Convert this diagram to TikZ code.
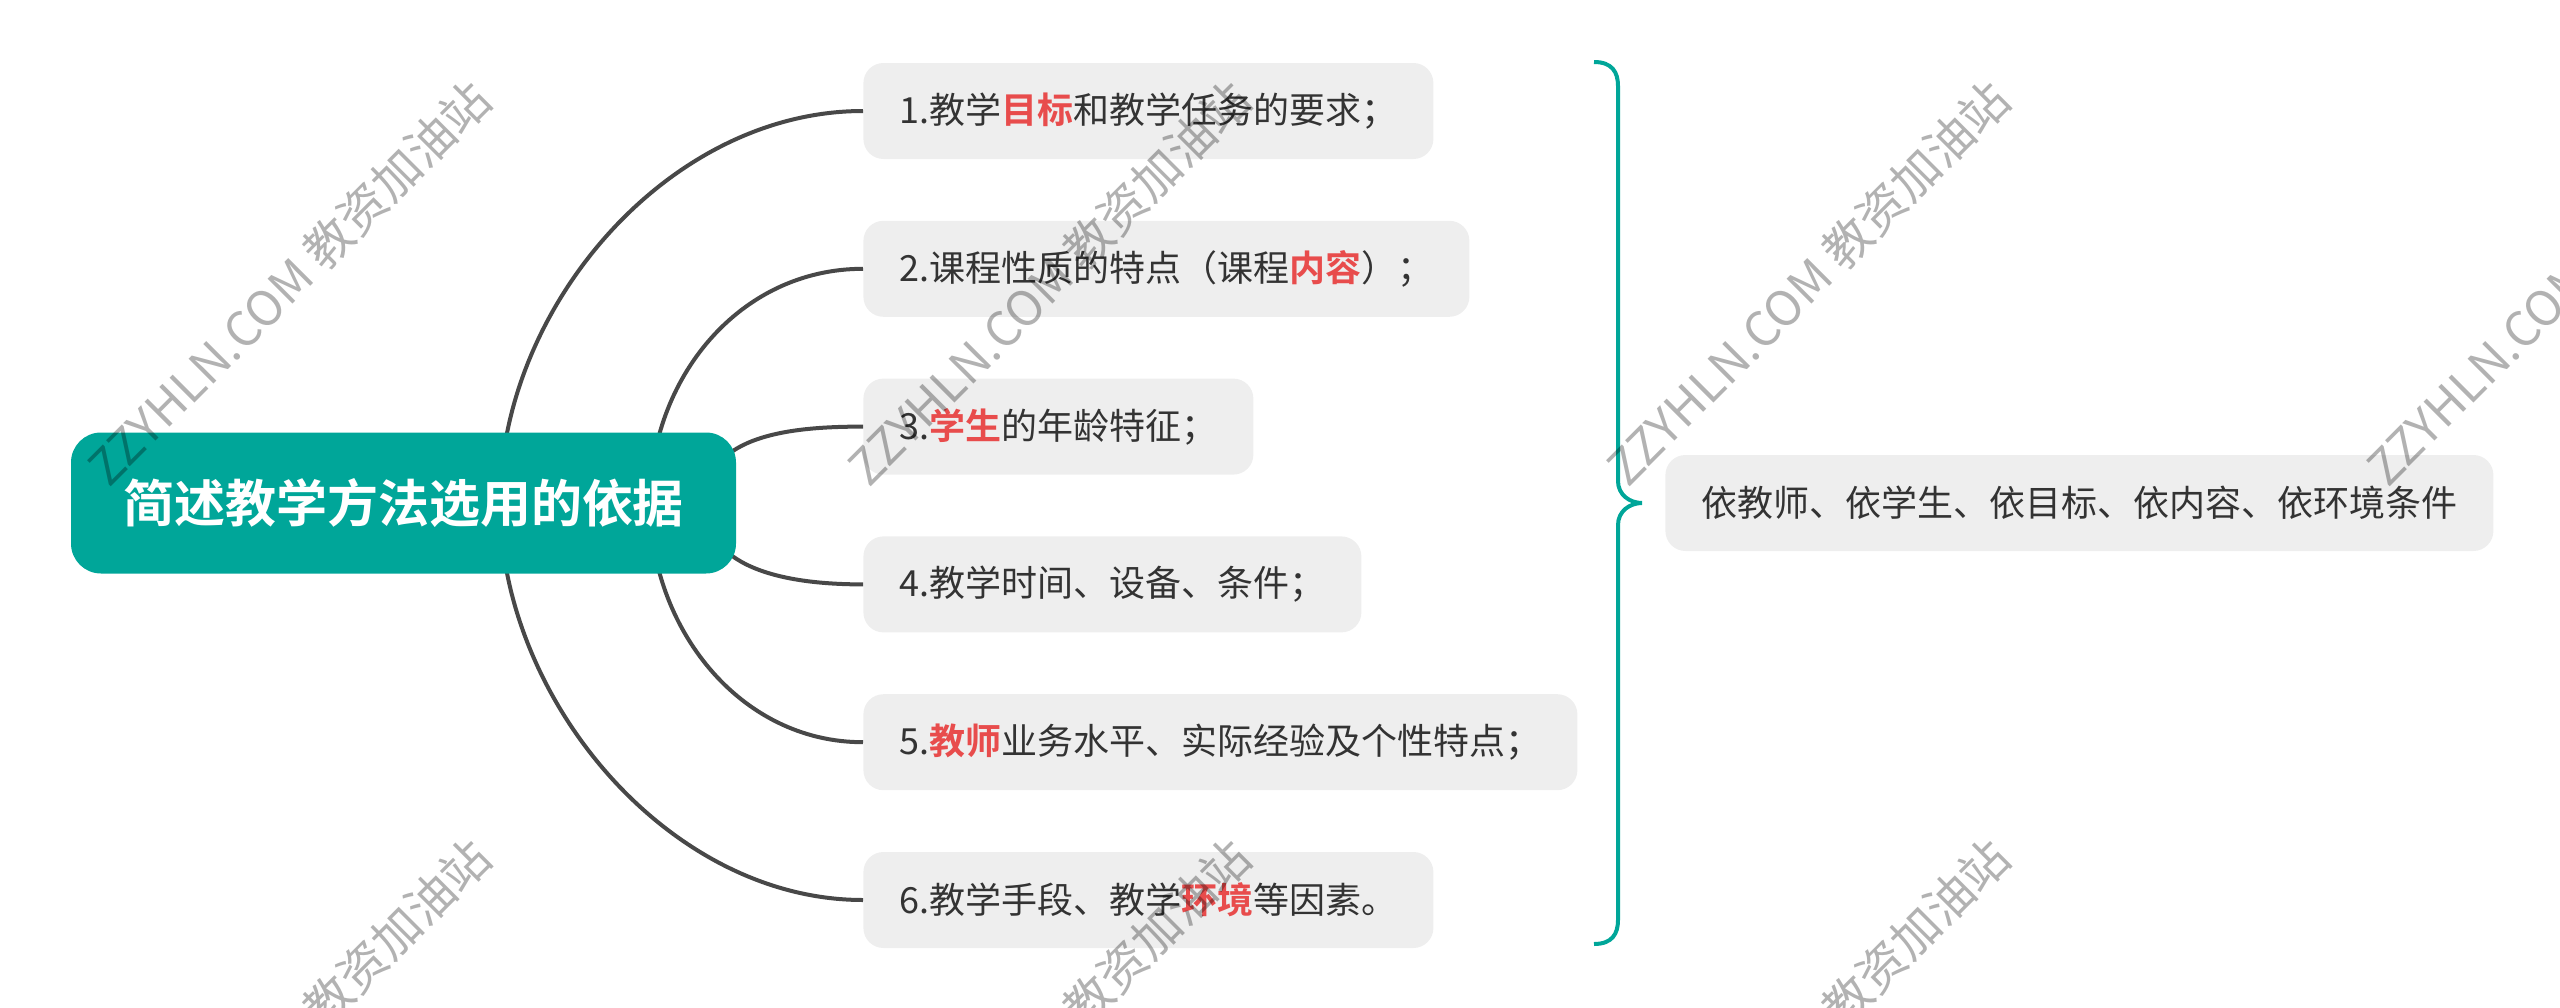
\documentclass[tikz,border=0pt]{standalone}
\usepackage{fontspec}
\setmainfont{Noto Sans CJK SC}[BoldFont={Noto Sans CJK SC Bold}]
\usetikzlibrary{positioning}
\definecolor{rootteal}{RGB}{0,166,153}
\definecolor{boxgray}{RGB}{238,238,238}
\definecolor{textgray}{RGB}{51,51,51}
\definecolor{keyred}{RGB}{232,76,76}
\definecolor{linegray}{RGB}{72,72,72}
\newcommand{\keyw}[1]{{\bfseries\color{keyred}#1}}
\tikzset{
  rootbox/.style={fill=rootteal, rounded corners=15pt, text=white,
    font=\fontsize{25.5pt}{30pt}\selectfont\bfseries,
    minimum width=332.5pt, minimum height=70.5pt},
  topic/.style={fill=boxgray, rounded corners=10pt, text=textgray,
    font=\fontsize{18pt}{22pt}\selectfont, inner xsep=18pt,
    minimum height=48pt},
  branch/.style={draw=linegray, line width=2pt},
  brace/.style={draw=rootteal, line width=2pt},
  wmark/.style={rotate=45, text=black, text opacity=0.3,
    font=\fontsize{24pt}{28pt}\selectfont}
}

\begin{document}
\begin{tikzpicture}[x=0.5pt, y=-0.5pt]
  \useasboundingbox (0,0) rectangle (2560,1007);
  \clip (0,0) rectangle (2560,1007);
  % topics
  \node [topic, anchor=west] (b1) at (863,111) {1.教学\keyw{目标}和教学任务的要求；};
  \node [topic, below=30.5pt of b1.south west, anchor=north west] (b2) {2.课程性质的特点（课程\keyw{内容}）；};
  \node [topic, below=30.5pt of b2.south west, anchor=north west] (b3) {3.\keyw{学生}的年龄特征；\hspace{1em}};
  \node [topic, below=30.5pt of b3.south west, anchor=north west] (b4) {4.教学时间、设备、条件；\hspace{1em}};
  \node [topic, below=30.5pt of b4.south west, anchor=north west] (b5) {5.\keyw{教师}业务水平、实际经验及个性特点；};
  \node [topic, below=30.5pt of b5.south west, anchor=north west] (b6) {6.教学手段、教学\keyw{环境}等因素。};
  % branches
  \coordinate (s1) at (500,503);
  \coordinate (s2) at (650,503);
  \coordinate (s3) at (705,503);
  \draw [branch] (s1) .. controls +(0,-195) and +(-195,0) .. (b1.west);
  \draw [branch] (s2) .. controls +(0,-124) and +(-124,0) .. (b2.west);
  \draw [branch] (s3) .. controls +(0,-69) and +(-69,0) .. (b3.west);
  \draw [branch] (s3) .. controls +(0,69) and +(-69,0) .. (b4.west);
  \draw [branch] (s2) .. controls +(0,124) and +(-124,0) .. (b5.west);
  \draw [branch] (s1) .. controls +(0,195) and +(-195,0) .. (b6.west);
  \node [rootbox] (root) at (403.5,503) {简述教学方法选用的依据};
  % brace and summary
  \coordinate (bt) at (1594,62);
  \coordinate (bb) at (1594,944);
  \coordinate (btip) at (1642,503);
  \draw [brace] (bt) .. controls +(18,0) and +(0,-14) .. ++(24,24) -- (1618,481)
    .. controls +(0,14) and +(-12,0) .. (btip)
    .. controls +(-12,0) and +(0,-14) .. (1618,525) -- (1618,920)
    .. controls +(0,14) and +(18,0) .. (bb);
  \node [topic, right=11.5pt of btip, minimum width=409.5pt] (sum) {依教师、依学生、依目标、依内容、依环境条件};
  % watermark
  \foreach \wx in {289,1049,1808,2568}
    \node [wmark] (wa\wx) at (\wx,283) {ZZYHLN.COM 教资加油站};
  \foreach \wx in {289,1049,1808}
    \node [wmark] (wb\wx) at (\wx,1041) {ZZYHLN.COM 教资加油站};
\end{tikzpicture}
\end{document}
